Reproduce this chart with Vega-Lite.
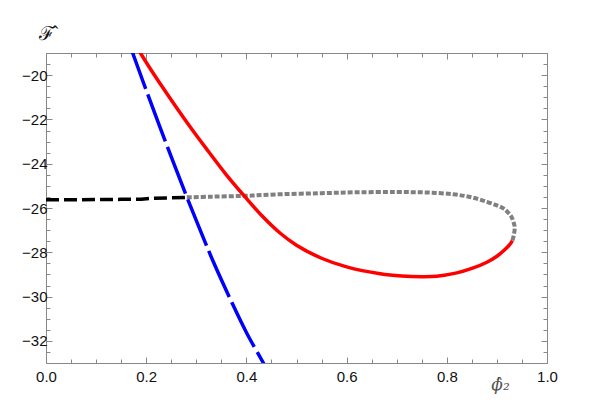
{
  "$schema": "https://vega.github.io/schema/vega-lite/v6.json",
  "width": 501,
  "height": 310,
  "autosize": "none",
  "padding": {"left": 46, "top": 53, "right": 42, "bottom": 39},
  "config": {
    "view": {"stroke": "#888888", "strokeWidth": 1},
    "axis": {"grid": false, "domain": false, "tickColor": "#888888", "tickWidth": 1, "labelFont": "Liberation Sans", "labelFontSize": 15, "labelColor": "#111111", "labelOverlap": false, "labelFlush": false, "labelBound": false}
  },
  "data": {
    "values": [
      {"s": "black", "i": 0, "x": 0.0, "y": -25.63},
      {"s": "black", "i": 1, "x": 0.05, "y": -25.63},
      {"s": "black", "i": 2, "x": 0.10, "y": -25.62},
      {"s": "black", "i": 3, "x": 0.15, "y": -25.61},
      {"s": "black", "i": 4, "x": 0.19, "y": -25.6},
      {"s": "black", "i": 5, "x": 0.21, "y": -25.56},
      {"s": "black", "i": 6, "x": 0.25, "y": -25.54},
      {"s": "black", "i": 7, "x": 0.281, "y": -25.52},
      {"s": "gray", "i": 0, "x": 0.281, "y": -25.52},
      {"s": "gray", "i": 1, "x": 0.33, "y": -25.49},
      {"s": "gray", "i": 2, "x": 0.397, "y": -25.45},
      {"s": "gray", "i": 3, "x": 0.467, "y": -25.38},
      {"s": "gray", "i": 4, "x": 0.55, "y": -25.33},
      {"s": "gray", "i": 5, "x": 0.62, "y": -25.29},
      {"s": "gray", "i": 6, "x": 0.70, "y": -25.28},
      {"s": "gray", "i": 7, "x": 0.76, "y": -25.3},
      {"s": "gray", "i": 8, "x": 0.813, "y": -25.38},
      {"s": "gray", "i": 9, "x": 0.85, "y": -25.52},
      {"s": "gray", "i": 10, "x": 0.88, "y": -25.72},
      {"s": "gray", "i": 11, "x": 0.90, "y": -25.88},
      {"s": "gray", "i": 12, "x": 0.913, "y": -26.02},
      {"s": "gray", "i": 13, "x": 0.922, "y": -26.2},
      {"s": "gray", "i": 14, "x": 0.929, "y": -26.4},
      {"s": "gray", "i": 15, "x": 0.933, "y": -26.62},
      {"s": "gray", "i": 16, "x": 0.9355, "y": -26.85},
      {"s": "gray", "i": 17, "x": 0.935, "y": -27.05},
      {"s": "gray", "i": 18, "x": 0.933, "y": -27.3},
      {"s": "gray", "i": 19, "x": 0.931, "y": -27.47},
      {"s": "red", "i": 0, "x": 0.17, "y": -18.3},
      {"s": "red", "i": 1, "x": 0.1885, "y": -19.0},
      {"s": "red", "i": 2, "x": 0.215, "y": -19.95},
      {"s": "red", "i": 3, "x": 0.25, "y": -21.12},
      {"s": "red", "i": 4, "x": 0.285, "y": -22.25},
      {"s": "red", "i": 5, "x": 0.32, "y": -23.32},
      {"s": "red", "i": 6, "x": 0.36, "y": -24.5},
      {"s": "red", "i": 7, "x": 0.397, "y": -25.49},
      {"s": "red", "i": 8, "x": 0.43, "y": -26.33},
      {"s": "red", "i": 9, "x": 0.467, "y": -27.13},
      {"s": "red", "i": 10, "x": 0.5, "y": -27.68},
      {"s": "red", "i": 11, "x": 0.55, "y": -28.27},
      {"s": "red", "i": 12, "x": 0.6, "y": -28.66},
      {"s": "red", "i": 13, "x": 0.667, "y": -28.97},
      {"s": "red", "i": 14, "x": 0.71, "y": -29.07},
      {"s": "red", "i": 15, "x": 0.75, "y": -29.1},
      {"s": "red", "i": 16, "x": 0.78, "y": -29.08},
      {"s": "red", "i": 17, "x": 0.82, "y": -28.93},
      {"s": "red", "i": 18, "x": 0.85, "y": -28.73},
      {"s": "red", "i": 19, "x": 0.88, "y": -28.45},
      {"s": "red", "i": 20, "x": 0.90, "y": -28.18},
      {"s": "red", "i": 21, "x": 0.915, "y": -27.9},
      {"s": "red", "i": 22, "x": 0.925, "y": -27.67},
      {"s": "red", "i": 23, "x": 0.931, "y": -27.47},
      {"s": "blue", "i": 0, "x": 0.165, "y": -18.5},
      {"s": "blue", "i": 1, "x": 0.173, "y": -19.0},
      {"s": "blue", "i": 2, "x": 0.20, "y": -20.68},
      {"s": "blue", "i": 3, "x": 0.24, "y": -23.1},
      {"s": "blue", "i": 4, "x": 0.281, "y": -25.5},
      {"s": "blue", "i": 5, "x": 0.31, "y": -27.12},
      {"s": "blue", "i": 6, "x": 0.334, "y": -28.43},
      {"s": "blue", "i": 7, "x": 0.37, "y": -30.22},
      {"s": "blue", "i": 8, "x": 0.40, "y": -31.62},
      {"s": "blue", "i": 9, "x": 0.434, "y": -33.0},
      {"s": "blue", "i": 10, "x": 0.445, "y": -33.45}
    ]
  },
  "resolve": {"axis": {"x": "independent", "y": "independent"}},
  "layer": [
    {
      "transform": [{"filter": "datum.s === 'black'"}],
      "mark": {"type": "line", "color": "#000000", "strokeWidth": 3.5, "strokeDash": [13, 5], "clip": true},
      "encoding": {
        "order": {"field": "i", "type": "quantitative"},
        "x": {"field": "x", "type": "quantitative", "scale": {"domain": [0, 1], "nice": false, "zero": false},
          "axis": {"orient": "bottom",
            "values": [0, 0.05, 0.1, 0.15, 0.2, 0.25, 0.3, 0.35, 0.4, 0.45, 0.5, 0.55, 0.6, 0.65, 0.7, 0.75, 0.8, 0.85, 0.9, 0.95, 1.0],
            "labelExpr": "abs(datum.value*5 - round(datum.value*5)) < 0.001 ? format(datum.value, '.1f') : ''",
            "tickSize": {"condition": {"test": "abs(datum.value*5 - round(datum.value*5)) < 0.001", "value": -6}, "value": -4},
            "labelPadding": 12,
            "title": "ϕ̂₂", "titleFont": "DejaVu Serif", "titleFontStyle": "italic", "titleFontWeight": "normal", "titleFontSize": 17, "titleColor": "#555555",
            "titleAngle": 0, "titleAlign": "center", "titleBaseline": "middle", "titleX": 454, "titleY": 21}},
        "y": {"field": "y", "type": "quantitative", "scale": {"domain": [-33, -19], "nice": false, "zero": false},
          "axis": {"orient": "left",
            "values": [-33, -32.5, -32, -31.5, -31, -30.5, -30, -29.5, -29, -28.5, -28, -27.5, -27, -26.5, -26, -25.5, -25, -24.5, -24, -23.5, -23, -22.5, -22, -21.5, -21, -20.5, -20, -19.5, -19],
            "labelExpr": "abs(datum.value/2 - round(datum.value/2)) < 0.001 ? (datum.value < 0 ? '−' : '') + format(abs(datum.value), 'd') : ''",
            "tickSize": {"condition": {"test": "abs(datum.value/2 - round(datum.value/2)) < 0.001", "value": -6}, "value": -4},
            "labelPadding": 5,
            "title": "ℱ̂", "titleFont": "DejaVu Serif", "titleFontStyle": "normal", "titleFontWeight": "normal", "titleFontSize": 19, "titleColor": "#111111",
            "titleAngle": 0, "titleAlign": "center", "titleBaseline": "middle", "titleX": 0, "titleY": -20}}
      }
    },
    {
      "transform": [{"filter": "datum.s === 'gray'"}],
      "mark": {"type": "line", "color": "#808080", "strokeWidth": 4, "strokeDash": [5, 2], "interpolate": "catmull-rom", "clip": true},
      "encoding": {
        "order": {"field": "i", "type": "quantitative"},
        "x": {"field": "x", "type": "quantitative", "axis": null},
        "y": {"field": "y", "type": "quantitative", "axis": null}
      }
    },
    {
      "transform": [{"filter": "datum.s === 'red'"}],
      "mark": {"type": "line", "color": "#ff0000", "strokeWidth": 3.5, "interpolate": "catmull-rom", "clip": true},
      "encoding": {
        "order": {"field": "i", "type": "quantitative"},
        "x": {"field": "x", "type": "quantitative", "axis": null},
        "y": {"field": "y", "type": "quantitative", "axis": null}
      }
    },
    {
      "transform": [{"filter": "datum.s === 'blue'"}],
      "mark": {"type": "line", "color": "#0000ff", "strokeWidth": 3.5, "strokeDash": [50, 6], "interpolate": "catmull-rom", "clip": true},
      "encoding": {
        "order": {"field": "i", "type": "quantitative"},
        "x": {"field": "x", "type": "quantitative",
          "axis": {"orient": "top", "labels": false, "title": null,
            "values": [0, 0.05, 0.1, 0.15, 0.2, 0.25, 0.3, 0.35, 0.4, 0.45, 0.5, 0.55, 0.6, 0.65, 0.7, 0.75, 0.8, 0.85, 0.9, 0.95, 1.0],
            "tickSize": {"condition": {"test": "abs(datum.value*5 - round(datum.value*5)) < 0.001", "value": -6}, "value": -4}}},
        "y": {"field": "y", "type": "quantitative",
          "axis": {"orient": "right", "labels": false, "title": null,
            "values": [-33, -32.5, -32, -31.5, -31, -30.5, -30, -29.5, -29, -28.5, -28, -27.5, -27, -26.5, -26, -25.5, -25, -24.5, -24, -23.5, -23, -22.5, -22, -21.5, -21, -20.5, -20, -19.5, -19],
            "tickSize": {"condition": {"test": "abs(datum.value/2 - round(datum.value/2)) < 0.001", "value": -6}, "value": -4}}}
      }
    }
  ]
}
